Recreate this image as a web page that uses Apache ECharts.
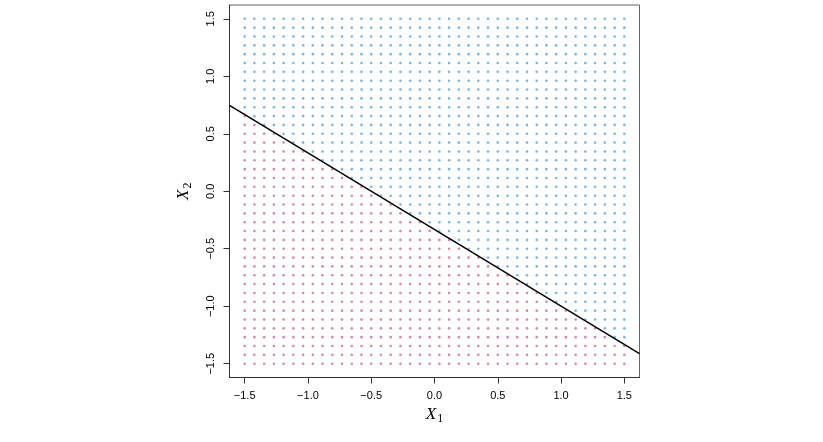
<!DOCTYPE html>
<html>
<head>
<meta charset="utf-8">
<title>hyperplane</title>
<script src="https://cdn.jsdelivr.net/npm/echarts@6/dist/echarts.min.js"></script>
<style>
  html, body { margin: 0; padding: 0; background: #fff; }
  #chartPlane { width: 823px; height: 442px; }
</style>
</head>
<body>
<div id="chartPlane"></div>
<script>
// grid coordinates, same for X1 and X2 (40 steps from -1.5 to 1.5)
var gridVals = [-1.5, -1.4231, -1.3462, -1.2692, -1.1923, -1.1154, -1.0385, -0.9615,
  -0.8846, -0.8077, -0.7308, -0.6538, -0.5769, -0.5, -0.4231, -0.3462, -0.2692,
  -0.1923, -0.1154, -0.0385, 0.0385, 0.1154, 0.1923, 0.2692, 0.3462, 0.4231, 0.5,
  0.5769, 0.6538, 0.7308, 0.8077, 0.8846, 0.9615, 1.0385, 1.1154, 1.1923, 1.2692,
  1.3462, 1.4231, 1.5];
// how many points (from the bottom) of each column are red
var redCount = [29, 28, 27, 27, 26, 25, 25, 24, 23, 23, 22, 21, 21, 20, 19, 19, 18, 17, 17, 16,
  15, 15, 14, 13, 13, 12, 11, 11, 10, 9, 9, 8, 7, 7, 6, 5, 5, 4, 3, 3];
// the hyperplane 1 + 2X1 + 3X2 = 0, end points at the plot edges
var lineX = [-1.62, 1.62];
var lineY = [0.747, -1.413];
var tickVals = [-1.5, -1.0, -0.5, 0.0, 0.5, 1.0, 1.5];

var redPts = [];
var bluePts = [];
for (var i = 0; i < gridVals.length; i++) {
  for (var j = 0; j < gridVals.length; j++) {
    if (j < redCount[i]) {
      redPts.push([gridVals[i], gridVals[j]]);
    } else {
      bluePts.push([gridVals[i], gridVals[j]]);
    }
  }
}
var linePts = [[lineX[0], lineY[0]], [lineX[1], lineY[1]]];

function fmt(val) {
  return val.toFixed(1).replace('-', '\u2212');
}

var nameRich = {
  x: { fontFamily: 'Liberation Serif', fontStyle: 'italic', fontSize: 17, color: '#000' },
  s: { fontFamily: 'Liberation Serif', fontSize: 12, color: '#000', padding: [7, 0, 0, 1], verticalAlign: 'bottom' }
};

var option = {
  animation: false,
  grid: {
    left: 229.5,
    right: 183.5,
    top: 5,
    bottom: 64.5,
    show: true,
    borderColor: '#666',
    borderWidth: 1,
    backgroundColor: 'transparent'
  },
  xAxis: {
    type: 'value',
    min: -1.62,
    max: 1.62,
    name: '{x|X}{s|1}',
    nameLocation: 'middle',
    nameGap: 27,
    nameTextStyle: { rich: nameRich },
    splitLine: { show: false },
    axisLine: { show: true, onZero: false, lineStyle: { color: '#333', width: 1 } },
    axisTick: {
      show: true,
      inside: false,
      length: 6,
      customValues: tickVals,
      lineStyle: { color: '#333' }
    },
    axisLabel: {
      customValues: tickVals,
      formatter: fmt,
      margin: 13,
      fontFamily: 'Liberation Sans',
      fontSize: 11,
      color: '#000'
    }
  },
  yAxis: {
    type: 'value',
    min: -1.62,
    max: 1.62,
    name: '{x|X}{s|2}',
    nameLocation: 'middle',
    nameGap: 36,
    nameTextStyle: { rich: nameRich },
    splitLine: { show: false },
    axisLine: { show: true, onZero: false, lineStyle: { color: '#333', width: 1 } },
    axisTick: {
      show: true,
      inside: false,
      length: 6,
      customValues: tickVals,
      lineStyle: { color: '#333' }
    },
    axisLabel: {
      customValues: tickVals,
      formatter: fmt,
      rotate: 90,
      margin: 13,
      fontFamily: 'Liberation Sans',
      fontSize: 11,
      color: '#000'
    }
  },
  series: [
    {
      name: 'red',
      type: 'scatter',
      data: redPts,
      symbol: 'circle',
      symbolSize: 2.6,
      itemStyle: { color: '#d0679f' },
      silent: true
    },
    {
      name: 'blue',
      type: 'scatter',
      data: bluePts,
      symbol: 'circle',
      symbolSize: 2.6,
      itemStyle: { color: '#58a2dc' },
      silent: true
    },
    {
      name: 'plane',
      type: 'line',
      data: linePts,
      symbol: 'none',
      clip: true,
      lineStyle: { color: '#000', width: 1.5 },
      silent: true
    }
  ]
};

var chartPlane = echarts.init(document.getElementById('chartPlane'));
chartPlane.setOption(option);

window.addEventListener('resize', function() {
  chartPlane.resize();
});
</script>
</body>
</html>
